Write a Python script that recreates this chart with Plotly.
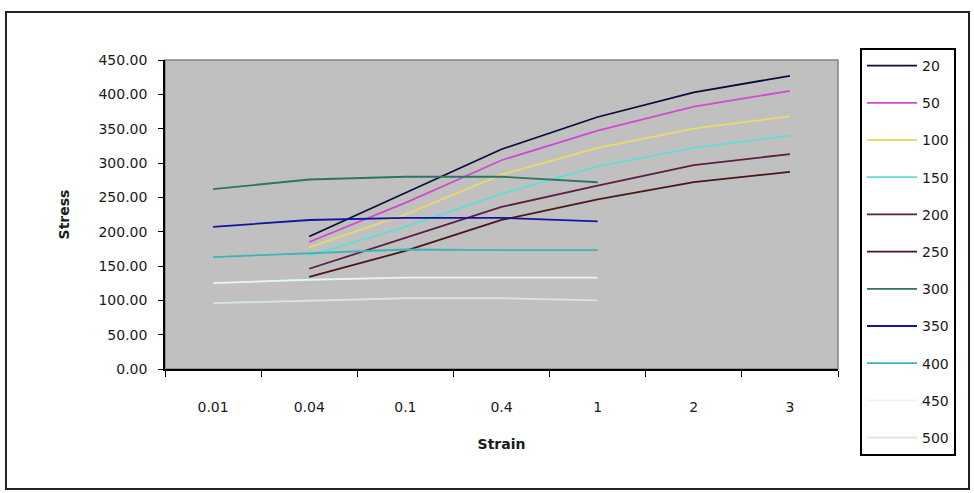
import plotly.graph_objects as go

# ---------------- data ----------------
strain = ["0.01", "0.04", "0.1", "0.4", "1", "2", "3"]
temps = ["20", "50", "100", "150", "200", "250", "300", "350", "400", "450", "500"]

s20 = [None, 193, 256, 320, 367, 403, 427]
s50 = [None, 185, 242, 304, 347, 382, 405]
s100 = [None, 177, 225, 283, 322, 350, 368]
s150 = [None, 165, 207, 255, 295, 322, 340]
s200 = [None, 146, 191, 236, 267, 297, 313]
s250 = [None, 134, 172, 217, 247, 272, 287]
s300 = [262, 276, 280, 280, 272, None, None]
s350 = [207, 217, 220, 220, 215, None, None]
s400 = [163, 169, 174, 173, 173, None, None]
s450 = [125, 130, 133, 133, 133, None, None]
s500 = [96, 100, 103, 103, 100, None, None]

series = [s20, s50, s100, s150, s200, s250, s300, s350, s400, s450, s500]
colors = ["#0c0c3c", "#d04ad0", "#e6dc6a", "#62dcd4", "#5c1e44", "#4a1616",
          "#2e7464", "#1414a0", "#3cb4b8", "#e6f6f6", "#d6e8d6"]

W, H = 974, 493
ML, MR, MT, MB = 165, 136, 60, 124
pw, ph = W - ML - MR, H - MT - MB

def px_x(p):
    return (p - ML) / pw

def px_y(p):
    return (H - MB - p) / ph

FONT = "DejaVu Sans"

fig = go.Figure()
for name, vals, col in zip(temps, series, colors):
    fig.add_trace(go.Scatter(
        x=strain, y=vals, name=name, mode="lines",
        line=dict(color=col, width=1.8), legendgroup=name,
        connectgaps=False,
    ))

fig.update_layout(
    width=W, height=H,
    margin=dict(l=ML, r=MR, t=MT, b=MB),
    paper_bgcolor="white",
    plot_bgcolor="#c0c0c0",
    font=dict(family=FONT, size=13, color="#1a1a1a"),
    showlegend=True,
    legend=dict(
        x=px_x(860), y=px_y(48), xanchor="left", yanchor="top",
        bgcolor="white", bordercolor="black", borderwidth=2,
        font=dict(family=FONT, size=14, color="#1a1a1a"),
        tracegroupgap=16, itemwidth=50, maxheight=440,
        entrywidth=40, entrywidthmode="pixels",
    ),
    xaxis=dict(
        type="category", range=[-0.5, 6.5],
        showline=True, linecolor="black", linewidth=1.5,
        ticks="outside", ticklen=6, tickcolor="black", tickson="boundaries",
        showgrid=False, zeroline=False,
        tickfont=dict(family=FONT, size=14),
        ticklabelstandoff=24,
        title=dict(text="<b>Strain</b>", font=dict(family=FONT, size=14), standoff=26),
    ),
    yaxis=dict(
        range=[0, 450], dtick=50, tickformat=".2f",
        showline=True, linecolor="black", linewidth=1.5,
        ticks="outside", ticklen=5, tickcolor="black",
        showgrid=False, zeroline=False,
        tickfont=dict(family=FONT, size=14),
        ticklabelstandoff=8,
        title=dict(text="<b>Stress</b>", font=dict(family=FONT, size=14), standoff=26),
    ),
    shapes=[
        dict(type="rect", xref="paper", yref="paper", x0=0, x1=1, y0=0, y1=1,
             line=dict(color="#808080", width=1.5), layer="below"),
        dict(type="rect", xref="paper", yref="paper",
             x0=px_x(6), x1=px_x(969), y0=px_y(489), y1=px_y(12),
             line=dict(color="#222222", width=2)),
    ],
)

fig.write_html("out.html")
